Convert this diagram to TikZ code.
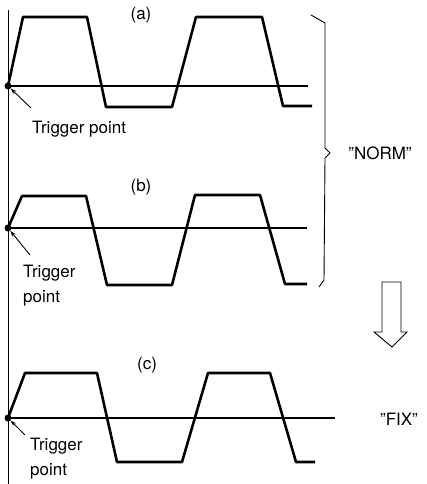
\documentclass[tikz,border=0pt]{standalone}
\usepackage{fontspec}
\setmainfont{TeX Gyre Heros}
\usepackage{tikz}
\usetikzlibrary{arrows.meta, calc}

\begin{document}
\begin{tikzpicture}[
    x=1pt, y=-1pt,
    wave/.style={line width=2.6pt, line join=round},
    level/.style={line width=1.3pt},
    axis/.style={line width=0.9pt},
    dot/.style={circle, fill, inner sep=0pt, minimum size=7pt},
    lbl/.style={inner sep=0pt, font=\fontsize{17}{25}\selectfont, align=left},
    ptr/.style={line width=0.9pt, -{Stealth[length=6pt, width=4pt]}},
]
\useasboundingbox (0,0) rectangle (427,484);

% Time axis
\draw[axis] (8,10) -- (8,484);

% Trigger levels
\draw[level] (8,86) -- (308,86);
\draw[level] (8,228) -- (307,228);
\draw[level] (8,418) -- (335,418);

% Waveforms
\draw[wave] (8,86) -- (23,17) -- (87,17) -- (106,107) -- (172,107) -- (196,17) -- (262,17) -- (283,106) -- (312,106);
\draw[wave] (8,228) -- (22,196) -- (86,196) -- (107,285) -- (172,285) -- (195,195) -- (260,195) -- (285,284) -- (307,284);
\draw[wave] (8,418) -- (25,373) -- (97,373) -- (117,462) -- (182,462) -- (208,373) -- (270,373) -- (296,462) -- (315,462);

% Trigger points
\node[dot] (ta) at (8,86) {};
\node[dot] (tb) at (8,228) {};
\node[dot] (tc) at (8,418) {};

% Labels
\node[lbl] (a) at (141,15) {(a)};
\node[lbl] (b) at (141,187) {(b)};
\node[lbl] (c) at (147,365) {(c)};
\node[lbl, anchor=north west] (la) at (32,121) {Trigger point};
\node[lbl, anchor=north west] (lb) at (23,265) {Trigger\\point};
\node[lbl, anchor=north west] (lc) at (30,438) {Trigger\\point};

\draw[ptr] ([shift={(-1,-13)}]la.north west) -- (ta);
\draw[ptr] ([shift={(7,-10)}]lb.north west) -- (tb);
\draw[ptr] ([shift={(-5,-3)}]lc.north west) -- (tc);

% Modes
\draw[axis] (311,15) -- (325,23) -- (325,148) -- (330,153) -- (325,158) -- (324,280) -- (319,287);
\node[lbl] (norm) at (380,153) {''NORM''};
\draw[axis, line join=miter] (382,282) -- (401,282) -- (401,332) -- (407,332) -- (392,347) -- (374,332) -- (382,332) -- cycle;
\node[lbl] (fix) at (399,419) {''FIX''};

\end{tikzpicture}
\end{document}
